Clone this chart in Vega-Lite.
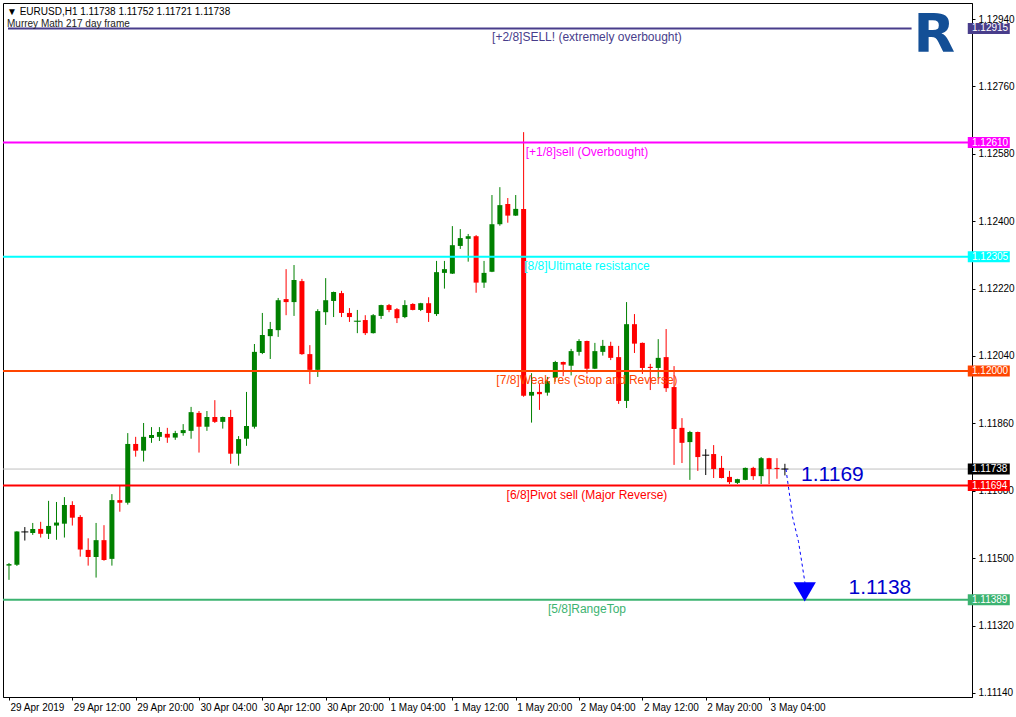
{
  "$schema": "https://vega.github.io/schema/vega-lite/v6.json",
  "width": 969,
  "height": 694,
  "autosize": {"type": "none"},
  "padding": {"left": 3, "top": 3, "right": 44, "bottom": 20},
  "background": "white",
  "config": {"view": {"stroke": "#000000", "strokeWidth": 1}, "font": "Liberation Sans"},
  "title": {
    "text": "▼ EURUSD,H1  1.11738 1.11752 1.11721 1.11738",
    "subtitle": "Murrey Math 217 day frame",
    "anchor": "start", "frame": "group", "orient": "top", "offset": -26, "dx": 4,
    "font": "Liberation Sans", "fontSize": 10, "fontWeight": "normal", "color": "#000000",
    "subtitleFont": "Liberation Sans", "subtitleFontSize": 10, "subtitleColor": "#222222", "subtitlePadding": 2
  },
  "datasets": {
    "candles": [
      {"t":"2019-04-29T04:00","o":1.11480,"h":1.11487,"l":1.11442,"c":1.11484},
      {"t":"2019-04-29T05:00","o":1.11482,"h":1.11572,"l":1.11479,"c":1.11571},
      {"t":"2019-04-29T06:00","o":1.11570,"h":1.11583,"l":1.11547,"c":1.11570},
      {"t":"2019-04-29T07:00","o":1.11567,"h":1.11594,"l":1.11562,"c":1.11578},
      {"t":"2019-04-29T08:00","o":1.11578,"h":1.11597,"l":1.11555,"c":1.11565},
      {"t":"2019-04-29T09:00","o":1.11565,"h":1.11653,"l":1.11551,"c":1.11586},
      {"t":"2019-04-29T10:00","o":1.11587,"h":1.11650,"l":1.11549,"c":1.11595},
      {"t":"2019-04-29T11:00","o":1.11592,"h":1.11663,"l":1.11555,"c":1.11642},
      {"t":"2019-04-29T12:00","o":1.11642,"h":1.11652,"l":1.11587,"c":1.11608},
      {"t":"2019-04-29T13:00","o":1.11610,"h":1.11615,"l":1.11504,"c":1.11523},
      {"t":"2019-04-29T14:00","o":1.11522,"h":1.11553,"l":1.11480,"c":1.11503},
      {"t":"2019-04-29T15:00","o":1.11503,"h":1.11594,"l":1.11448,"c":1.11548},
      {"t":"2019-04-29T16:00","o":1.11548,"h":1.11588,"l":1.11493,"c":1.11495},
      {"t":"2019-04-29T17:00","o":1.11498,"h":1.11671,"l":1.11480,"c":1.11655},
      {"t":"2019-04-29T18:00","o":1.11655,"h":1.11695,"l":1.11624,"c":1.11648},
      {"t":"2019-04-29T19:00","o":1.11648,"h":1.11834,"l":1.11643,"c":1.11805},
      {"t":"2019-04-29T20:00","o":1.11805,"h":1.11824,"l":1.11771,"c":1.11787},
      {"t":"2019-04-29T21:00","o":1.11787,"h":1.11861,"l":1.11758,"c":1.11824},
      {"t":"2019-04-29T22:00","o":1.11821,"h":1.11850,"l":1.11808,"c":1.11829},
      {"t":"2019-04-29T23:00","o":1.11824,"h":1.11850,"l":1.11813,"c":1.11837},
      {"t":"2019-04-30T00:00","o":1.11832,"h":1.11848,"l":1.11808,"c":1.11822},
      {"t":"2019-04-30T01:00","o":1.11822,"h":1.11840,"l":1.11816,"c":1.11834},
      {"t":"2019-04-30T02:00","o":1.11834,"h":1.11858,"l":1.11827,"c":1.11842},
      {"t":"2019-04-30T03:00","o":1.11840,"h":1.11904,"l":1.11819,"c":1.11890},
      {"t":"2019-04-30T04:00","o":1.11888,"h":1.11893,"l":1.11782,"c":1.11851},
      {"t":"2019-04-30T05:00","o":1.11851,"h":1.11893,"l":1.11840,"c":1.11877},
      {"t":"2019-04-30T06:00","o":1.11877,"h":1.11922,"l":1.11861,"c":1.11864},
      {"t":"2019-04-30T07:00","o":1.11864,"h":1.11878,"l":1.11846,"c":1.11877},
      {"t":"2019-04-30T08:00","o":1.11877,"h":1.11896,"l":1.11752,"c":1.11779},
      {"t":"2019-04-30T09:00","o":1.11779,"h":1.11826,"l":1.11747,"c":1.11818},
      {"t":"2019-04-30T10:00","o":1.11819,"h":1.11944,"l":1.11800,"c":1.11853},
      {"t":"2019-04-30T11:00","o":1.11851,"h":1.12072,"l":1.11846,"c":1.12051},
      {"t":"2019-04-30T12:00","o":1.12048,"h":1.12155,"l":1.12045,"c":1.12096},
      {"t":"2019-04-30T13:00","o":1.12093,"h":1.12131,"l":1.12032,"c":1.12112},
      {"t":"2019-04-30T14:00","o":1.12109,"h":1.12195,"l":1.12091,"c":1.12189},
      {"t":"2019-04-30T15:00","o":1.12192,"h":1.12272,"l":1.12149,"c":1.12184},
      {"t":"2019-04-30T16:00","o":1.12184,"h":1.12283,"l":1.12147,"c":1.12243},
      {"t":"2019-04-30T17:00","o":1.12240,"h":1.12246,"l":1.12043,"c":1.12045},
      {"t":"2019-04-30T18:00","o":1.12045,"h":1.12069,"l":1.11965,"c":1.12003},
      {"t":"2019-04-30T19:00","o":1.12003,"h":1.12165,"l":1.11984,"c":1.12160},
      {"t":"2019-04-30T20:00","o":1.12157,"h":1.12248,"l":1.12123,"c":1.12189},
      {"t":"2019-04-30T21:00","o":1.12187,"h":1.12212,"l":1.12144,"c":1.12211},
      {"t":"2019-04-30T22:00","o":1.12208,"h":1.12214,"l":1.12144,"c":1.12155},
      {"t":"2019-04-30T23:00","o":1.12155,"h":1.12168,"l":1.12131,"c":1.12144},
      {"t":"2019-05-01T00:00","o":1.12132,"h":1.12163,"l":1.12101,"c":1.12133},
      {"t":"2019-05-01T01:00","o":1.12136,"h":1.12149,"l":1.12096,"c":1.12101},
      {"t":"2019-05-01T02:00","o":1.12101,"h":1.12152,"l":1.12100,"c":1.12149},
      {"t":"2019-05-01T03:00","o":1.12147,"h":1.12177,"l":1.12139,"c":1.12176},
      {"t":"2019-05-01T04:00","o":1.12176,"h":1.12179,"l":1.12157,"c":1.12163},
      {"t":"2019-05-01T05:00","o":1.12165,"h":1.12168,"l":1.12128,"c":1.12141},
      {"t":"2019-05-01T06:00","o":1.12144,"h":1.12189,"l":1.12141,"c":1.12176},
      {"t":"2019-05-01T07:00","o":1.12179,"h":1.12181,"l":1.12162,"c":1.12163},
      {"t":"2019-05-01T08:00","o":1.12163,"h":1.12182,"l":1.12160,"c":1.12181},
      {"t":"2019-05-01T09:00","o":1.12181,"h":1.12197,"l":1.12131,"c":1.12155},
      {"t":"2019-05-01T10:00","o":1.12152,"h":1.12294,"l":1.12147,"c":1.12264},
      {"t":"2019-05-01T11:00","o":1.12262,"h":1.12294,"l":1.12220,"c":1.12272},
      {"t":"2019-05-01T12:00","o":1.12260,"h":1.12387,"l":1.12259,"c":1.12336},
      {"t":"2019-05-01T13:00","o":1.12334,"h":1.12379,"l":1.12326,"c":1.12355},
      {"t":"2019-05-01T14:00","o":1.12353,"h":1.12366,"l":1.12292,"c":1.12360},
      {"t":"2019-05-01T15:00","o":1.12360,"h":1.12363,"l":1.12209,"c":1.12236},
      {"t":"2019-05-01T16:00","o":1.12236,"h":1.12294,"l":1.12222,"c":1.12262},
      {"t":"2019-05-01T17:00","o":1.12265,"h":1.12470,"l":1.12264,"c":1.12392},
      {"t":"2019-05-01T18:00","o":1.12392,"h":1.12491,"l":1.12388,"c":1.12443},
      {"t":"2019-05-01T19:00","o":1.12446,"h":1.12462,"l":1.12396,"c":1.12415},
      {"t":"2019-05-01T20:00","o":1.12415,"h":1.12470,"l":1.12414,"c":1.12433},
      {"t":"2019-05-01T21:00","o":1.12433,"h":1.12638,"l":1.11931,"c":1.11934},
      {"t":"2019-05-01T22:00","o":1.11934,"h":1.11994,"l":1.11862,"c":1.11944},
      {"t":"2019-05-01T23:00","o":1.11944,"h":1.11965,"l":1.11896,"c":1.11938},
      {"t":"2019-05-02T00:00","o":1.11942,"h":1.11984,"l":1.11934,"c":1.11973},
      {"t":"2019-05-02T01:00","o":1.11982,"h":1.12027,"l":1.11971,"c":1.12024},
      {"t":"2019-05-02T02:00","o":1.12024,"h":1.12025,"l":1.11986,"c":1.12017},
      {"t":"2019-05-02T03:00","o":1.12014,"h":1.12059,"l":1.11988,"c":1.12053},
      {"t":"2019-05-02T04:00","o":1.12051,"h":1.12085,"l":1.12041,"c":1.12080},
      {"t":"2019-05-02T05:00","o":1.12080,"h":1.12081,"l":1.11993,"c":1.12006},
      {"t":"2019-05-02T06:00","o":1.12006,"h":1.12075,"l":1.12005,"c":1.12053},
      {"t":"2019-05-02T07:00","o":1.12051,"h":1.12083,"l":1.12041,"c":1.12067},
      {"t":"2019-05-02T08:00","o":1.12067,"h":1.12078,"l":1.12029,"c":1.12035},
      {"t":"2019-05-02T09:00","o":1.12037,"h":1.12067,"l":1.11912,"c":1.11920},
      {"t":"2019-05-02T10:00","o":1.11920,"h":1.12184,"l":1.11901,"c":1.12125},
      {"t":"2019-05-02T11:00","o":1.12125,"h":1.12152,"l":1.12048,"c":1.12073},
      {"t":"2019-05-02T12:00","o":1.12075,"h":1.12076,"l":1.11992,"c":1.12008},
      {"t":"2019-05-02T13:00","o":1.12011,"h":1.12019,"l":1.11949,"c":1.12008},
      {"t":"2019-05-02T14:00","o":1.12008,"h":1.12085,"l":1.11981,"c":1.12035},
      {"t":"2019-05-02T15:00","o":1.12037,"h":1.12112,"l":1.11944,"c":1.11954},
      {"t":"2019-05-02T16:00","o":1.11957,"h":1.12013,"l":1.11749,"c":1.11845},
      {"t":"2019-05-02T17:00","o":1.11848,"h":1.11874,"l":1.11754,"c":1.11808},
      {"t":"2019-05-02T18:00","o":1.11810,"h":1.11840,"l":1.11709,"c":1.11837},
      {"t":"2019-05-02T19:00","o":1.11837,"h":1.11838,"l":1.11733,"c":1.11770},
      {"t":"2019-05-02T20:00","o":1.11775,"h":1.11791,"l":1.11722,"c":1.11775},
      {"t":"2019-05-02T21:00","o":1.11778,"h":1.11802,"l":1.11714,"c":1.11738},
      {"t":"2019-05-02T22:00","o":1.11741,"h":1.11773,"l":1.11713,"c":1.11714},
      {"t":"2019-05-02T23:00","o":1.11717,"h":1.11733,"l":1.11698,"c":1.11703},
      {"t":"2019-05-03T00:00","o":1.11701,"h":1.11712,"l":1.11698,"c":1.11711},
      {"t":"2019-05-03T01:00","o":1.11709,"h":1.11742,"l":1.11708,"c":1.11741},
      {"t":"2019-05-03T02:00","o":1.11741,"h":1.11744,"l":1.11709,"c":1.11719},
      {"t":"2019-05-03T03:00","o":1.11719,"h":1.11770,"l":1.11698,"c":1.11767},
      {"t":"2019-05-03T04:00","o":1.11767,"h":1.11768,"l":1.11698,"c":1.11738},
      {"t":"2019-05-03T05:00","o":1.11741,"h":1.11767,"l":1.11712,"c":1.11738},
      {"t":"2019-05-03T06:00","o":1.11738,"h":1.11752,"l":1.11721,"c":1.11738}
    ],
    "levels": [
      {"level":"+2/8","p":1.12915,"label":"[+2/8]SELL! (extremely overbought)"},
      {"level":"+1/8","p":1.12610,"label":"[+1/8]sell (Overbought)"},
      {"level":"8/8","p":1.12305,"label":"[8/8]Ultimate resistance"},
      {"level":"7/8","p":1.12000,"label":"[7/8]Weak res (Stop and Reverse)"},
      {"level":"6/8","p":1.11694,"label":"[6/8]Pivot sell (Major Reverse)"},
      {"level":"5/8","p":1.11389,"label":"[5/8]RangeTop"},
      {"level":"price","p":1.11738,"label":""}
    ],
    "arrow": [
      {"t":"2019-05-03T06:08","p":1.11738},
      {"t":"2019-05-03T06:28","p":1.11687},
      {"t":"2019-05-03T07:00","p":1.11607},
      {"t":"2019-05-03T07:43","p":1.11544},
      {"t":"2019-05-03T08:07","p":1.11491},
      {"t":"2019-05-03T08:32","p":1.11434}
    ],
    "notes": [
      {"t":"2019-05-03T12:00","p":1.11722,"label":"1.1169"},
      {"t":"2019-05-03T18:00","p":1.11420,"label":"1.1138"}
    ]
  },
  "layer": [
    {
      "data": {"values": [{}]},
      "mark": {"type": "rule", "color": "#C0C0C0", "strokeWidth": 1},
      "encoding": {
        "y": {"datum": 1.11738, "type": "quantitative",
          "scale": {"domain": [1.11129, 1.12983], "nice": false, "zero": false},
          "axis": {
            "orient": "right", "title": null, "grid": false, "format": ".5f",
            "values": [1.1114, 1.1123, 1.1132, 1.1141, 1.115, 1.1159, 1.1168, 1.1177, 1.1186, 1.1195, 1.1204, 1.1213, 1.1222, 1.1231, 1.124, 1.1249, 1.1258, 1.1267, 1.1276, 1.1285, 1.1294],
            "labelFont": "Liberation Sans", "labelFontSize": 10, "labelColor": "#000000",
            "tickColor": "#000000", "tickSize": 3, "labelPadding": 3, "domainColor": "#000000",
            "labelOverlap": false, "labelFlush": false, "labelBound": false
          }
        }
      }
    },
    {
      "data": {"name": "candles"},
      "mark": {"type": "rule", "strokeWidth": 1, "clip": true},
      "encoding": {
        "x": {"field": "t", "type": "temporal",
          "scale": {"domain": [{"year": 2019, "month": 4, "date": 29, "hours": 3, "minutes": 52, "seconds": 30}, {"year": 2019, "month": 5, "date": 4, "hours": 5}], "nice": false},
          "axis": {
            "orient": "bottom", "title": null, "grid": false,
            "values": [
              {"year": 2019, "month": 4, "date": 29, "hours": 4},
              {"year": 2019, "month": 4, "date": 29, "hours": 12},
              {"year": 2019, "month": 4, "date": 29, "hours": 20},
              {"year": 2019, "month": 4, "date": 30, "hours": 4},
              {"year": 2019, "month": 4, "date": 30, "hours": 12},
              {"year": 2019, "month": 4, "date": 30, "hours": 20},
              {"year": 2019, "month": 5, "date": 1, "hours": 4},
              {"year": 2019, "month": 5, "date": 1, "hours": 12},
              {"year": 2019, "month": 5, "date": 1, "hours": 20},
              {"year": 2019, "month": 5, "date": 2, "hours": 4},
              {"year": 2019, "month": 5, "date": 2, "hours": 12},
              {"year": 2019, "month": 5, "date": 2, "hours": 20},
              {"year": 2019, "month": 5, "date": 3, "hours": 4}
            ],
            "labelExpr": "datum.index === 0 ? timeFormat(datum.value, '%-d %b %Y') : timeFormat(datum.value, '%-d %b %H:%M')",
            "labelAlign": "left", "labelBaseline": "top", "labelOffset": 1,
            "labelFont": "Liberation Sans", "labelFontSize": 10, "labelColor": "#000000",
            "tickColor": "#000000", "tickSize": 3, "labelPadding": 2, "domainColor": "#000000",
            "labelOverlap": false, "labelFlush": false, "labelBound": false
          }
        },
        "y": {"field": "l", "type": "quantitative"},
        "y2": {"field": "h"},
        "color": {"condition": [{"test": "datum.c > datum.o", "value": "#008000"}, {"test": "datum.c < datum.o", "value": "#FF0000"}], "value": "#000000"}
      }
    },
    {
      "data": {"name": "candles"},
      "mark": {"type": "bar", "width": 5, "clip": true},
      "encoding": {
        "x": {"field": "t", "type": "temporal"},
        "y": {"field": "o", "type": "quantitative"},
        "y2": {"field": "c"},
        "color": {"condition": [{"test": "datum.c > datum.o", "value": "#008000"}, {"test": "datum.c < datum.o", "value": "#FF0000"}], "value": "#000000"}
      }
    },
    {
      "data": {"name": "candles"},
      "transform": [{"filter": "abs(datum.c - datum.o) < 0.00002"}],
      "mark": {"type": "tick", "orient": "horizontal", "size": 7, "thickness": 1, "opacity": 1, "clip": true},
      "encoding": {
        "x": {"field": "t", "type": "temporal"},
        "y": {"field": "c", "type": "quantitative"},
        "color": {"condition": [{"test": "datum.c > datum.o", "value": "#008000"}, {"test": "datum.c < datum.o", "value": "#FF0000"}], "value": "#000000"}
      }
    },
    {
      "data": {"name": "levels"},
      "transform": [{"filter": "datum.level !== 'price' && datum.level !== '+2/8'"}],
      "mark": {"type": "rule", "strokeWidth": 2},
      "encoding": {
        "y": {"field": "p", "type": "quantitative"},
        "color": {"field": "level", "type": "nominal", "legend": null,
          "scale": {"domain": ["+2/8", "+1/8", "8/8", "7/8", "6/8", "5/8", "price"], "range": ["#483D8B", "#FF00FF", "#00FFFF", "#FF4500", "#FF0000", "#3CB371", "#000000"]}}
      }
    },
    {
      "data": {"name": "levels"},
      "transform": [{"filter": "datum.level === '+2/8'"}],
      "mark": {"type": "rule", "strokeWidth": 2},
      "encoding": {
        "x": {"datum": {"year": 2019, "month": 4, "date": 29, "hours": 3, "minutes": 52, "seconds": 30}, "type": "temporal"},
        "x2": {"datum": {"year": 2019, "month": 5, "date": 3, "hours": 22}},
        "y": {"field": "p", "type": "quantitative"},
        "color": {"field": "level", "type": "nominal", "legend": null}
      }
    },
    {
      "data": {"name": "levels"},
      "transform": [{"filter": "datum.level !== 'price'"}],
      "mark": {"type": "text", "align": "center", "baseline": "middle", "dy": 9, "fontSize": 12, "font": "Liberation Sans"},
      "encoding": {
        "x": {"datum": {"year": 2019, "month": 5, "date": 2, "hours": 5}, "type": "temporal"},
        "y": {"field": "p", "type": "quantitative"},
        "text": {"field": "label"},
        "color": {"field": "level", "type": "nominal", "legend": null}
      }
    },
    {
      "data": {"name": "levels"},
      "mark": {"type": "tick", "orient": "horizontal", "size": 42, "thickness": 11, "opacity": 1},
      "encoding": {
        "x": {"datum": {"year": 2019, "month": 5, "date": 4, "hours": 7, "minutes": 45}, "type": "temporal"},
        "y": {"field": "p", "type": "quantitative"},
        "color": {"field": "level", "type": "nominal", "legend": null}
      }
    },
    {
      "data": {"name": "levels"},
      "mark": {"type": "text", "align": "left", "baseline": "middle", "dx": 5, "fontSize": 10, "font": "Liberation Sans", "color": "#FFFFFF"},
      "encoding": {
        "x": {"datum": {"year": 2019, "month": 5, "date": 4, "hours": 5}, "type": "temporal"},
        "y": {"field": "p", "type": "quantitative"},
        "text": {"field": "p", "type": "quantitative", "format": ".5f"}
      }
    },
    {
      "data": {"name": "arrow"},
      "mark": {"type": "line", "color": "#0000FF", "strokeWidth": 1, "strokeDash": [3, 3]},
      "encoding": {
        "x": {"field": "t", "type": "temporal"},
        "y": {"field": "p", "type": "quantitative"}
      }
    },
    {
      "data": {"values": [{}]},
      "mark": {"type": "point", "shape": "triangle-down", "filled": true, "size": 500, "color": "#0000FF", "opacity": 1},
      "encoding": {
        "x": {"datum": {"year": 2019, "month": 5, "date": 3, "hours": 8, "minutes": 30}, "type": "temporal"},
        "y": {"datum": 1.1141, "type": "quantitative"}
      }
    },
    {
      "data": {"name": "notes"},
      "mark": {"type": "text", "align": "center", "baseline": "middle", "fontSize": 21, "font": "Liberation Sans", "color": "#0000CD"},
      "encoding": {
        "x": {"field": "t", "type": "temporal"},
        "y": {"field": "p", "type": "quantitative"},
        "text": {"field": "label"}
      }
    },
    {
      "data": {"values": [{}]},
      "mark": {"type": "text", "align": "center", "baseline": "middle", "fontSize": 54, "font": "DejaVu Sans", "fontWeight": "bold", "color": "#134F96", "text": "R"},
      "encoding": {
        "x": {"datum": {"year": 2019, "month": 5, "date": 4, "hours": 0, "minutes": 52}, "type": "temporal"},
        "y": {"datum": 1.12895, "type": "quantitative"}
      }
    }
  ]
}
